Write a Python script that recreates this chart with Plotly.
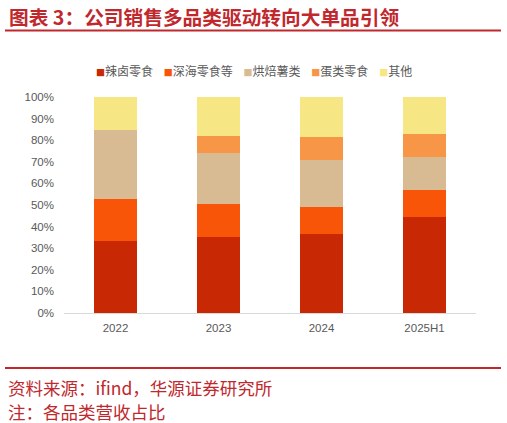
import plotly.graph_objects as go

categories = ["2022", "2023", "2024", "2025H1"]
series_names = ["辣卤零食", "深海零食等", "烘焙薯类", "蛋类零食", "其他"]
spicy = [0.333, 0.352, 0.364, 0.444]
seafood = [0.195, 0.153, 0.127, 0.124]
bakery = [0.321, 0.238, 0.217, 0.154]
egg = [0.000, 0.078, 0.109, 0.105]
other = [0.151, 0.179, 0.183, 0.173]
series_values = [spicy, seafood, bakery, egg, other]
colors = ["#C82804", "#F85508", "#D8BB93", "#F79646", "#F7E684"]
y_ticks = [i / 10 for i in range(11)]

title_text = "图表 3：公司销售多品类驱动转向大单品引领"
source_text = "资料来源：ifind，华源证券研究所"
note_text = "注：各品类营收占比"
red = "#C0282D"

fig = go.Figure()
for name, vals, col in zip(series_names, series_values, colors):
    fig.add_trace(go.Bar(x=categories, y=vals, name=name,
                         marker=dict(color=col, line=dict(width=0)),
                         showlegend=False))

W, H = 507, 423
L, R, T, B = 64, 31, 97, 110
pw, ph = W - L - R, H - T - B

def px_x(x):
    return (x - L) / pw

def px_y(y):
    return (H - B - y) / ph

legend_html = "&nbsp;&nbsp;&nbsp;&nbsp;".join(
    f"<span style='color:{c};font-size:9px'>■</span>{n}" for n, c in zip(series_names, colors)
)

fig.update_layout(
    width=W, height=H,
    margin=dict(l=L, r=R, t=T, b=B),
    paper_bgcolor="white", plot_bgcolor="white",
    barmode="stack", bargap=0.592,
    font=dict(family="Liberation Sans, Arial, sans-serif", color="#595959", size=11.5),
    xaxis=dict(showgrid=False, showline=True, linecolor="#D9D9D9", linewidth=1,
               ticks="", ticklabelstandoff=4, tickfont=dict(size=11.5, color="#595959")),
    yaxis=dict(range=[0, 1], tickvals=y_ticks, tickformat=".0%", showgrid=False,
               showline=False, zeroline=False, ticks="", ticklabelstandoff=9,
               tickfont=dict(size=11.5, color="#595959")),
    annotations=[
        dict(text=f"<b>{title_text}</b>", xref="paper", yref="paper", x=px_x(7), y=px_y(16),
             xanchor="left", yanchor="middle", showarrow=False,
             font=dict(family="Noto Sans CJK SC", size=19.7, color=red)),
        dict(text=legend_html, xref="paper", yref="paper", x=px_x(94), y=px_y(71),
             xanchor="left", yanchor="middle", showarrow=False,
             font=dict(family="Noto Sans CJK SC", size=12, color="#595959")),
        dict(text=source_text, xref="paper", yref="paper", x=px_x(6), y=px_y(387),
             xanchor="left", yanchor="middle", showarrow=False,
             font=dict(family="Noto Sans CJK SC", size=17.5, color=red)),
        dict(text=note_text, xref="paper", yref="paper", x=px_x(6), y=px_y(411),
             xanchor="left", yanchor="middle", showarrow=False,
             font=dict(family="Noto Sans CJK SC", size=17.5, color=red)),
    ],
    shapes=[
        dict(type="line", xref="paper", yref="paper", x0=px_x(5), x1=px_x(501),
             y0=px_y(30.5), y1=px_y(30.5), line=dict(color=red, width=2)),
        dict(type="line", xref="paper", yref="paper", x0=px_x(5), x1=px_x(501),
             y0=px_y(368), y1=px_y(368), line=dict(color=red, width=2)),
    ],
)

fig.write_html("out.html")
